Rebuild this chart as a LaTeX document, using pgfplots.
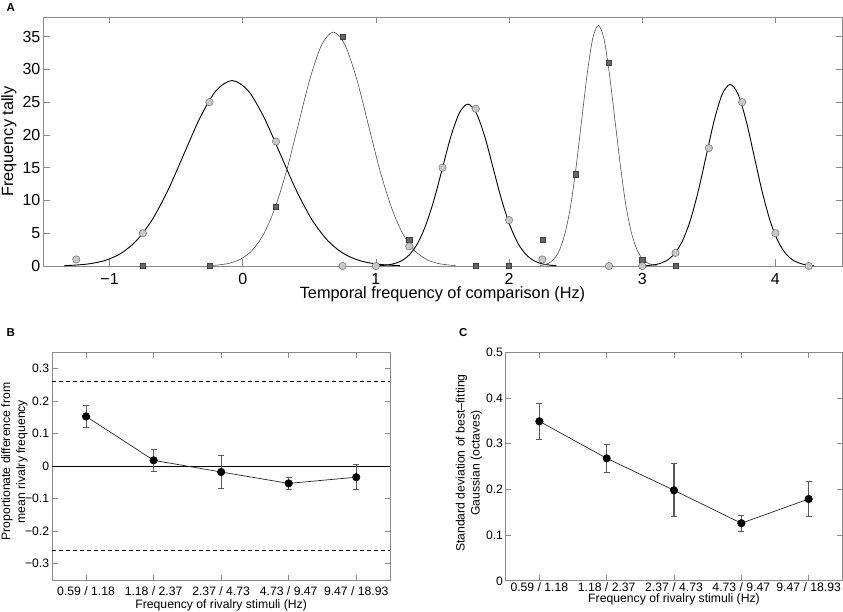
\documentclass[border=0pt]{standalone}
\usepackage{pgfplots}
\pgfplotsset{compat=1.18}
\usepackage{fontspec}
\setmainfont{Liberation Sans}
\definecolor{boxgray}{HTML}{8A8A8A}
\definecolor{circfill}{HTML}{C8C8C8}
\definecolor{circedge}{HTML}{707070}
\definecolor{sqfill}{HTML}{666666}
\definecolor{sqedge}{HTML}{404040}
\definecolor{thincurve}{HTML}{505050}
\definecolor{errgray}{HTML}{5A5A5A}
\begin{document}
\begin{tikzpicture}
\useasboundingbox (0pt,0pt) rectangle (843pt,611pt);
\pgfplotsset{
  rstyle/.style={
    scale only axis, anchor=south west, clip=false,
    tick align=inside,
    axis line style={boxgray, line width=0.8pt},
    tick style={boxgray, line width=0.8pt},
    /pgf/number format/assume math mode=true,
  }
}
% ---------------- Panel A ----------------
\begin{axis}[rstyle,
  at={(43pt,345pt)}, width=799pt, height=249pt,
  xmin=-1.5, xmax=4.5, ymin=0, ymax=38,
  xtick={-1,0,1,2,3,4}, xticklabels={−1,0,1,2,3,4},
  ytick={0,5,10,15,20,25,30,35}, yticklabels={0,5,10,15,20,25,30,35},
  major tick length=6.5pt,
  tick label style={font=\fontsize{16}{18}\selectfont},
  xticklabel style={anchor=base, inner sep=0pt, yshift=-18.5pt},
  yticklabel style={anchor=east, inner sep=0pt, xshift=-2.5pt},
  xlabel={Temporal frequency of comparison (Hz)},
  ylabel={Frequency tally},
  label style={font=\fontsize{16.3}{18}\selectfont},
  xlabel style={at={(rel axis cs:0.5,0)}, anchor=base, inner sep=0pt, yshift=-32.5pt},
  ylabel style={at={(rel axis cs:-0.0426,0.5)}, anchor=center, inner sep=0pt},
]
\addplot[black, line width=0.9pt, smooth] coordinates {(-1.34,0.062) (-1.28,0.109) (-1.16,0.314) (-1.04,0.809) (-0.92,1.860) (-0.80,3.829) (-0.68,7.058) (-0.56,11.634) (-0.44,17.164) (-0.32,22.660) (-0.20,26.772) (-0.08,28.3) (0.04,26.772) (0.16,22.660) (0.28,17.164) (0.40,11.634) (0.52,7.058) (0.64,3.829) (0.76,1.860) (0.88,0.809) (1.00,0.314) (1.12,0.109) (1.18,0.062)};
\addplot[thincurve, line width=0.6pt, smooth] coordinates {(-0.237,0.078) (-0.193,0.138) (-0.106,0.397) (-0.019,1.020) (0.069,2.347) (0.156,4.830) (0.243,8.904) (0.331,14.676) (0.418,21.652) (0.505,28.585) (0.593,33.772) (0.680,35.7) (0.767,33.772) (0.855,28.585) (0.942,21.652) (1.029,14.676) (1.117,8.904) (1.204,4.830) (1.291,2.347) (1.379,1.020) (1.466,0.397) (1.553,0.138) (1.597,0.078)};
\addplot[black, line width=0.9pt, smooth] coordinates {(1.025,0.054) (1.057,0.096) (1.120,0.274) (1.183,0.706) (1.247,1.624) (1.310,3.342) (1.373,6.160) (1.437,10.154) (1.500,14.981) (1.563,19.777) (1.627,23.366) (1.690,24.7) (1.753,23.366) (1.817,19.777) (1.880,14.981) (1.943,10.154) (2.007,6.160) (2.070,3.342) (2.133,1.624) (2.197,0.706) (2.260,0.274) (2.323,0.096) (2.355,0.054)};
\addplot[thincurve, line width=0.6pt, smooth] coordinates {(2.233,0.080) (2.253,0.142) (2.295,0.408) (2.337,1.049) (2.378,2.412) (2.420,4.966) (2.462,9.153) (2.503,15.087) (2.545,22.259) (2.587,29.386) (2.628,34.718) (2.670,36.7) (2.712,34.718) (2.753,29.386) (2.795,22.259) (2.837,15.087) (2.878,9.153) (2.920,4.966) (2.962,2.412) (3.003,1.049) (3.045,0.408) (3.087,0.142) (3.108,0.080)};
\addplot[black, line width=0.9pt, smooth] coordinates {(3.03,0.061) (3.06,0.107) (3.12,0.308) (3.18,0.791) (3.24,1.821) (3.30,3.748) (3.36,6.908) (3.42,11.387) (3.48,16.800) (3.54,22.179) (3.60,26.204) (3.66,27.7) (3.72,26.204) (3.78,22.179) (3.84,16.800) (3.90,11.387) (3.96,6.908) (4.02,3.748) (4.08,1.821) (4.14,0.791) (4.20,0.308) (4.26,0.107) (4.29,0.061)};
\addplot[only marks, mark=square*, mark size=2.6pt, mark options={fill=sqfill, draw=sqedge, line width=0.5pt}] coordinates {(-0.75,0) (-0.25,0) (0.25,9) (0.75,35) (1.25,4) (1.75,0) (2.0,0) (2.25,4) (2.5,14) (2.75,31) (3.0,1) (3.25,0)};
\addplot[only marks, mark=*, mark size=3.7pt, mark options={fill=circfill, draw=circedge, line width=0.5pt}] coordinates {(-1.25,1) (-0.75,5) (-0.25,25) (0.25,19) (0.75,0) (1.0,0) (1.25,3) (1.5,15) (1.75,24) (2.0,7) (2.25,1) (2.75,0) (3.0,0) (3.25,2) (3.5,18) (3.75,25) (4.0,5) (4.25,0)};
\end{axis}
% ---------------- Panel B ----------------
\begin{axis}[rstyle,
  at={(52.3pt,31pt)}, width=337.7pt, height=227.7pt,
  xmin=0.5, xmax=5.5, ymin=-0.35, ymax=0.35,
  xtick={1,2,3,4,5}, xticklabels={0.59 / 1.18,1.18 / 2.37,2.37 / 4.73,4.73 / 9.47,9.47 / 18.93},
  ytick={-0.3,-0.2,-0.1,0,0.1,0.2,0.3}, yticklabels={−0.3,−0.2,−0.1,0,0.1,0.2,0.3},
  major tick length=5.5pt,
  tick label style={font=\fontsize{12.2}{14}\selectfont},
  xticklabel style={anchor=base, inner sep=0pt, yshift=-15.4pt},
  yticklabel style={anchor=east, inner sep=0pt, xshift=-3pt},
  xlabel={Frequency of rivalry stimuli (Hz)},
  ylabel={Proportionate difference from\\mean rivalry frequency},
  label style={font=\fontsize{12.2}{15}\selectfont},
  xlabel style={at={(rel axis cs:0.5,0)}, anchor=base, inner sep=0pt, yshift=-28pt},
  ylabel style={at={(rel axis cs:-0.112,0.52)}, anchor=center, align=center, inner sep=0pt},
]
\addplot[black, dashed, line width=0.8pt, dash pattern=on 4pt off 3pt] coordinates {(0.5,0.26) (5.5,0.26)};
\addplot[black, dashed, line width=0.8pt, dash pattern=on 4pt off 3pt] coordinates {(0.5,-0.26) (5.5,-0.26)};
\addplot[black, line width=0.9pt] coordinates {(0.5,0) (5.5,0)};
\addplot[draw=black!85, line width=0.7pt, mark=*, mark size=3.7pt, mark options={fill=black, draw=black},
  error bars/.cd, y dir=both, y explicit,
  error bar style={line width=1.1pt, color=errgray},
  error mark options={rotate=90, mark size=3pt, line width=0.8pt, color=errgray}]
  coordinates {(1,0.153) +- (0,0.033) (2,0.018) +- (0,0.035) (3,-0.018) +- (0,0.050) (4,-0.053) +- (0,0.017) (5,-0.034) +- (0,0.038)};
\end{axis}
% ---------------- Panel C ----------------
\begin{axis}[rstyle,
  at={(505.7pt,30.2pt)}, width=336.6pt, height=228.5pt,
  xmin=0.5, xmax=5.5, ymin=0, ymax=0.5,
  xtick={1,2,3,4,5}, xticklabels={0.59 / 1.18,1.18 / 2.37,2.37 / 4.73,4.73 / 9.47,9.47 / 18.93},
  ytick={0,0.1,0.2,0.3,0.4,0.5}, yticklabels={0,0.1,0.2,0.3,0.4,0.5},
  major tick length=5.5pt,
  tick label style={font=\fontsize{12.2}{14}\selectfont},
  xticklabel style={anchor=base, inner sep=0pt, yshift=-11pt},
  yticklabel style={anchor=east, inner sep=0pt, xshift=-2.5pt},
  xlabel={Frequency of rivalry stimuli (Hz)},
  ylabel={Standard deviation of best–fitting\\Gaussian (octaves)},
  label style={font=\fontsize{12.2}{15}\selectfont},
  xlabel style={at={(rel axis cs:0.5,0)}, anchor=base, inner sep=0pt, yshift=-22pt},
  ylabel style={at={(rel axis cs:-0.109,0.515)}, anchor=center, align=center, inner sep=0pt},
]
\addplot[draw=black!85, line width=0.7pt, mark=*, mark size=3.7pt, mark options={fill=black, draw=black},
  error bars/.cd, y dir=both, y explicit,
  error bar style={line width=1.1pt, color=errgray},
  error mark options={rotate=90, mark size=3pt, line width=0.8pt, color=errgray}]
  coordinates {(1,0.349) +- (0,0.039) (2,0.268) +- (0,0.031) (3,0.198) +- (0,0.058) (4,0.126) +- (0,0.018) (5,0.179) +- (0,0.038)};
\end{axis}
% panel letters
\node[anchor=base west, inner sep=0pt, font=\fontsize{11.5}{13}\selectfont\bfseries] at (6.5pt,599pt) {A};
\node[anchor=base west, inner sep=0pt, font=\fontsize{11.5}{13}\selectfont\bfseries] at (6.5pt,274pt) {B};
\node[anchor=base west, inner sep=0pt, font=\fontsize{11.5}{13}\selectfont\bfseries] at (459pt,274pt) {C};
\end{tikzpicture}
\end{document}
